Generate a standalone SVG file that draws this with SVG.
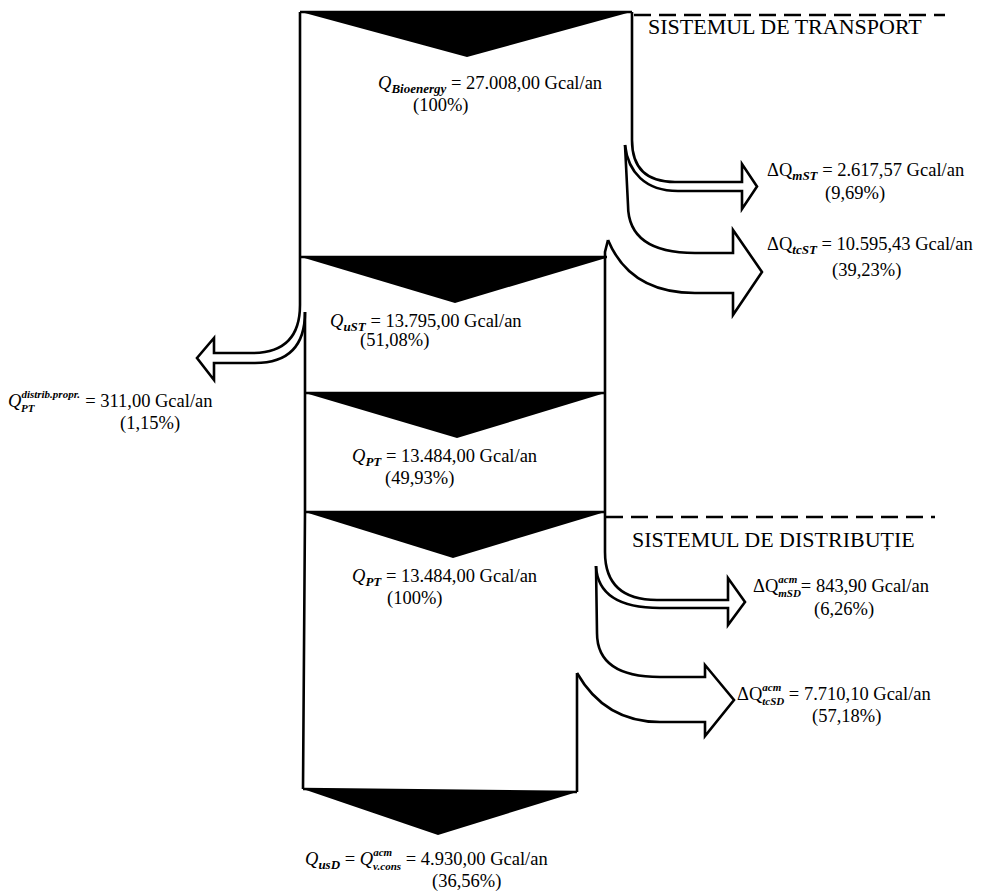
<svg xmlns="http://www.w3.org/2000/svg" width="991" height="893" viewBox="0 0 991 893">
<style>
  .ln{fill:none;stroke:#000;stroke-width:2.6;stroke-linejoin:miter;stroke-linecap:butt}
  .chev{fill:#000;stroke:none}
  .dash{fill:none;stroke:#000;stroke-width:2.6;stroke-dasharray:17 8}
  text{font-family:"Liberation Serif","Times New Roman",serif;fill:#000}
  .lbl{font-size:18.5px}
  .hdr{font-size:22px}
  .q{font-style:italic}
  .sb{font-size:13px;font-style:italic;font-weight:bold}
  .st{font-size:11px;font-style:italic;font-weight:bold}
</style>
<rect width="991" height="893" fill="#fff"/>

<g id="connectors">
  <!-- left outflow (distrib.propr.) -->
  <path class="ln" d="M300,12 L300,305 Q300,353 252,353 L214,353 L214,338 L197,358 L214,380 L214,363 L255,363 Q305,363 305,312"/>
  <!-- mST outflow -->
  <path class="ln" d="M632,12 L632,140 Q632,182 675,182 L742,182 L742,164 L757,186.5 L742,209 L742,191 L678,191 C645,191 628,172 625,145"/>
  <!-- tcST outflow -->
  <path class="ln" d="M625,145 L628,205 Q628,253 695,253 L733,253 L733,230 L762,272 L733,315 L733,293 L695,293 Q630,293 608,240"/>
  <!-- mSD outflow -->
  <path class="ln" d="M608,240 L605,252 L605,552 Q605,600 657,600 L728,600 L728,578 L745,602 L728,625 L728,608 L660,608 Q598,608 596,566"/>
  <!-- tcSD outflow -->
  <path class="ln" d="M596,566 L597,633 Q597,677 660,677 L705,677 L705,665 L734,700 L705,736 L705,722 L660,722 Q605,722 577,673"/>
  <!-- left edge of lower blocks -->
  <path class="ln" d="M305,312 L305,512 L303,789"/>
  <!-- right edge of last block -->
  <path class="ln" d="M577,673 L577,792"/>
  <!-- boundary dashed lines -->
  <path class="dash" d="M634,15 L945,15"/>
  <path class="dash" d="M606,517 L935,517"/>
</g>

<g id="block-bioenergy">
  <path class="ln" d="M300,12 L632,12"/>
  <polygon class="chev" points="301,12 631,12 467,57"/>
  <text class="lbl" x="378" y="89"><tspan class="q">Q</tspan><tspan class="sb" dy="4">Bioenergy</tspan><tspan dy="-4"> = 27.008,00 Gcal/an</tspan></text>
  <text class="lbl" x="413" y="111">(100%)</text>
</g>

<g id="block-ust">
  <path class="ln" d="M300,257 L607,257"/>
  <polygon class="chev" points="301,257 606,258 455,303"/>
  <text class="lbl" x="330" y="327"><tspan class="q">Q</tspan><tspan class="sb" dy="4">uST</tspan><tspan dy="-4"> = 13.795,00 Gcal/an</tspan></text>
  <text class="lbl" x="360" y="346">(51,08%)</text>
</g>

<g id="block-pt">
  <path class="ln" d="M305,393 L605,393"/>
  <polygon class="chev" points="305,393 605,393 457,438"/>
  <text class="lbl" x="352" y="462"><tspan class="q">Q</tspan><tspan class="sb" dy="4">PT</tspan><tspan dy="-4"> = 13.484,00 Gcal/an</tspan></text>
  <text class="lbl" x="385" y="484">(49,93%)</text>
</g>

<g id="block-pt-distrib">
  <path class="ln" d="M305,512 L605,512"/>
  <polygon class="chev" points="305,512 605,512 453,558"/>
  <text class="lbl" x="352" y="582"><tspan class="q">Q</tspan><tspan class="sb" dy="4">PT</tspan><tspan dy="-4"> = 13.484,00 Gcal/an</tspan></text>
  <text class="lbl" x="387" y="604">(100%)</text>
</g>

<g id="block-usd">
  <path class="ln" d="M303,789 L577,792"/>
  <polygon class="chev" points="303,789 577,792 438,835"/>
  <text class="lbl" x="305" y="865"><tspan class="q">Q</tspan><tspan class="sb" dy="4">usD</tspan><tspan dy="-4"> = </tspan><tspan class="q">Q</tspan><tspan class="st" dy="-9">acm</tspan><tspan class="st" dx="-19" dy="14">v.cons</tspan><tspan dy="-5"> = 4.930,00 Gcal/an</tspan></text>
  <text class="lbl" x="432" y="887">(36,56%)</text>
</g>

<g id="label-transport">
  <text class="hdr" x="648" y="34">SISTEMUL DE TRANSPORT</text>
</g>
<g id="label-distributie">
  <text class="hdr" x="632" y="547">SISTEMUL DE DISTRIBUȚIE</text>
</g>

<g id="out-mst">
  <text class="lbl" x="767" y="176">ΔQ<tspan class="sb" dy="4">mST</tspan><tspan dy="-4"> = 2.617,57 Gcal/an</tspan></text>
  <text class="lbl" x="825" y="199">(9,69%)</text>
</g>
<g id="out-tcst">
  <text class="lbl" x="767" y="250">ΔQ<tspan class="sb" dy="4">tcST</tspan><tspan dy="-4"> = 10.595,43 Gcal/an</tspan></text>
  <text class="lbl" x="832" y="276">(39,23%)</text>
</g>
<g id="out-msd">
  <text class="lbl" x="753" y="592">ΔQ<tspan class="st" dy="-9">acm</tspan><tspan class="st" dx="-19" dy="14">mSD</tspan><tspan dy="-5">= 843,90 Gcal/an</tspan></text>
  <text class="lbl" x="814" y="615">(6,26%)</text>
</g>
<g id="out-tcsd">
  <text class="lbl" x="737" y="700">ΔQ<tspan class="st" dy="-9">acm</tspan><tspan class="st" dx="-19" dy="14">tcSD</tspan><tspan dy="-5"> = 7.710,10 Gcal/an</tspan></text>
  <text class="lbl" x="812" y="722">(57,18%)</text>
</g>
<g id="out-distrib">
  <text class="lbl" x="8" y="407"><tspan class="q">Q</tspan><tspan class="st" dy="-9">distrib.propr.</tspan><tspan class="st" dx="-59" dy="14">PT</tspan><tspan dx="46" dy="-5"> = 311,00 Gcal/an</tspan></text>
  <text class="lbl" x="120" y="429">(1,15%)</text>
</g>
</svg>
